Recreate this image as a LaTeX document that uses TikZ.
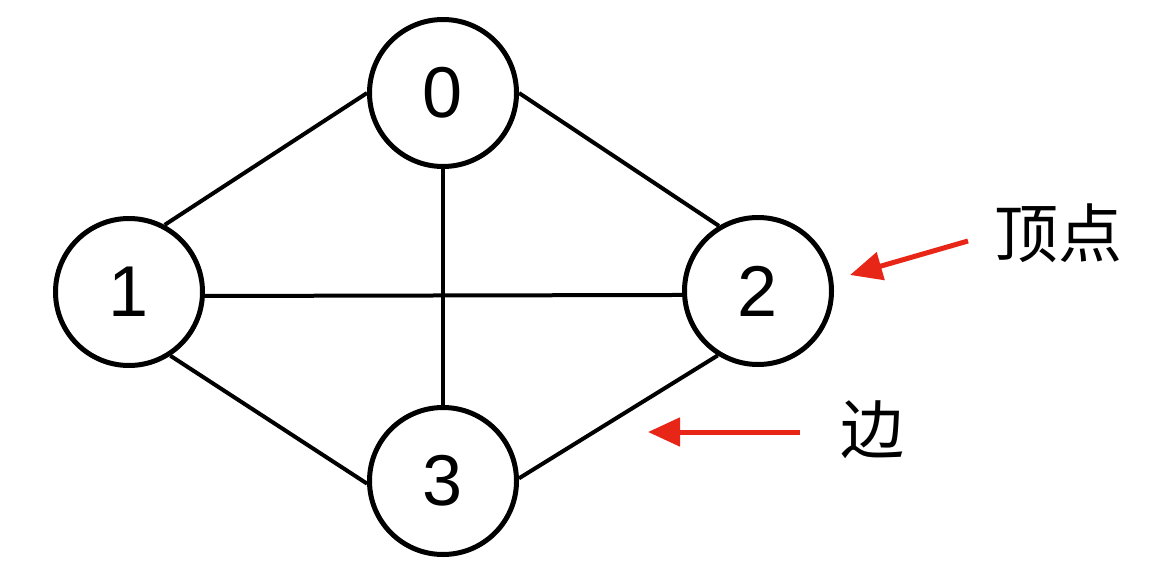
\documentclass[tikz,border=0pt]{standalone}
\usepackage{fontspec}
\setmainfont{Liberation Sans}
\newfontfamily\cjk{Noto Sans CJK SC}
\usetikzlibrary{arrows.meta}
\definecolor{arrred}{RGB}{232,38,24}
\tikzset{
  vert/.style={circle, draw=black, line width=5pt, minimum size=147pt, inner sep=0pt, font=\fontsize{72}{72}\selectfont},
  edge/.style={draw=black, line width=4pt},
  redarrow/.style={draw=arrred, line width=5pt, -{Triangle[length=32pt, width=28pt]}},
  lbl/.style={font=\cjk\fontsize{64}{64}\selectfont, inner sep=0pt}
}
\begin{document}
\begin{tikzpicture}[x=1pt, y=-1pt]
\useasboundingbox (0,0) rectangle (1174,572);
\fill[white] (0,0) rectangle (1174,572);
\node[vert] (n0) at (443,93) {0};
\node[vert] (n1) at (129,292) {1};
\node[vert] (n2) at (758,291) {2};
\node[vert] (n3) at (443,481) {3};
\draw[edge] (n1.62) -- (n0.180);
\draw[edge] (n0.0) -- (n2.121);
\draw[edge] (n0.south) -- (n3.north);
\draw[edge] (n1.-3) -- (n2.183);
\draw[edge] (n1.-57) -- (n3.182);
\draw[edge] (n3.2) -- (n2.-122);
\node[lbl] (tv) at (1058,233) {顶点};
\node[lbl] (te) at (872,430) {边};
\coordinate (va) at (968,241);
\coordinate (vb) at (850,275);
\coordinate (ea) at (800,432);
\coordinate (eb) at (648,432);
\draw[redarrow] (va) -- (vb);
\draw[redarrow] (ea) -- (eb);
\end{tikzpicture}
\end{document}
